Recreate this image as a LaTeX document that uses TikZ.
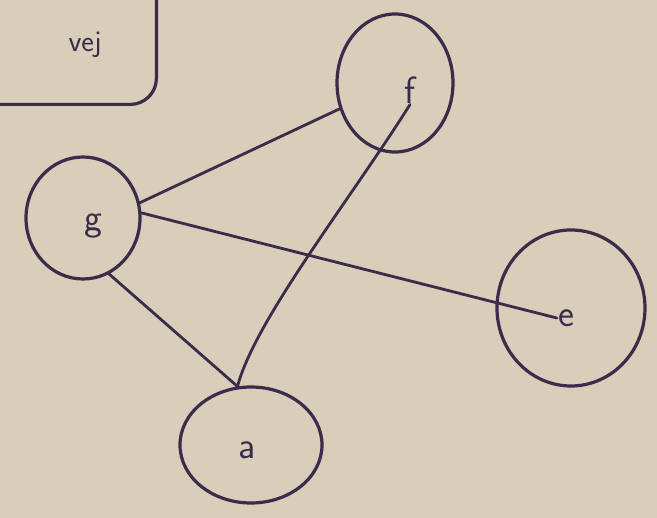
\documentclass[tikz,border=0pt]{standalone}
\usetikzlibrary{shapes.geometric}
\definecolor{paper}{RGB}{216,206,186}
\definecolor{ink}{RGB}{58,44,74}
\tikzset{
  vertex/.style={ellipse, draw=ink, line width=3.2pt, inner sep=0pt},
  lbl/.style={text=ink, font=\sffamily\fontsize{38}{40}\selectfont, inner sep=1pt},
  edge/.style={draw=ink, line width=2.8pt, line cap=round}
}
\begin{document}
\begin{tikzpicture}[x=1pt,y=-1pt]
\fill[paper] (0,0) rectangle (657,518);
\useasboundingbox (0,0) rectangle (657,518);
% legend box
\node[draw=ink, line width=3.2pt, rounded corners=26pt, minimum width=200pt, minimum height=135pt, anchor=south east] (box) at (158,106) {};
\node[lbl, font=\sffamily\fontsize{30}{32}\selectfont] (vej) at (85,45) {vej};
% vertices
\node[vertex, minimum width=116pt, minimum height=138pt] (f) at (395,83) {};
\node[vertex, minimum width=114pt, minimum height=122pt] (g) at (83,218) {};
\node[vertex, minimum width=148pt, minimum height=156pt] (e) at (571,308) {};
\node[vertex, minimum width=142pt, minimum height=116pt] (a) at (251,445) {};
\node[lbl] (fl) at (410,90) {f};
\node[lbl] (gl) at (93,226) {g};
\node[lbl] (el) at (566,318) {e};
\node[lbl] (al) at (247,450) {a};
% edges
\draw[edge] (f.205) -- (g.15);
\draw[edge] (fl.south) .. controls (350,200) and (255,320) .. (a.103);
\draw[edge] (g.5) -- (el.west);
\draw[edge] (g.295) -- (a.103);
\end{tikzpicture}
\end{document}
